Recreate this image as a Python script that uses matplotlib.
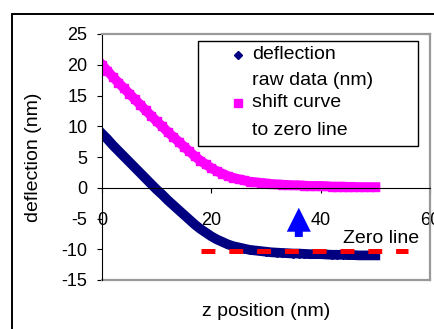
import matplotlib.pyplot as plt
from matplotlib.patches import Rectangle, FancyArrow

plt.rcParams['font.family'] = ['Liberation Sans', 'DejaVu Sans']
plt.rcParams['axes.unicode_minus'] = False

# z position (nm) and the two deflection curves (nm)
z_nm = list(range(0, 51))
deflection_raw = [8.8, 7.9, 6.9, 6.0, 5.1, 4.2, 3.3, 2.4, 1.5, 0.6,
                  -0.3, -1.1, -2.0, -2.8, -3.6, -4.4, -5.2, -6.0, -6.7, -7.3,
                  -7.9, -8.4, -8.8, -9.2, -9.5, -9.7, -9.9, -10.1, -10.2, -10.3,
                  -10.4, -10.5, -10.55, -10.6, -10.65, -10.7, -10.7, -10.75, -10.8, -10.8,
                  -10.8, -10.85, -10.9, -10.9, -10.9, -10.95, -10.95, -11.0, -11.0, -11.0,
                  -11.0]
shift_curve = [20.0, 19.0, 18.0, 17.1, 16.2, 15.3, 14.4, 13.5, 12.6, 11.7,
               10.8, 10.0, 9.1, 8.3, 7.5, 6.7, 5.9, 5.1, 4.4, 3.8,
               3.2, 2.7, 2.3, 1.9, 1.6, 1.4, 1.2, 1.0, 0.9, 0.8,
               0.7, 0.6, 0.55, 0.5, 0.45, 0.4, 0.4, 0.35, 0.3, 0.3,
               0.3, 0.25, 0.2, 0.2, 0.2, 0.15, 0.15, 0.1, 0.1, 0.1,
               0.1]

zero_level = -10.35
zero_from, zero_to = 18.2, 55.9
arrow_z = 36
arrow_bottom, arrow_top = -8.0, -3.25

x_ticks = [0, 20, 40, 60]
y_ticks = [-15, -10, -5, 0, 5, 10, 15, 20, 25]

fig = plt.figure(figsize=(4.35, 3.29), dpi=100)
ax = fig.add_axes([102/435, 49/329, 328/435, 246/329])

# outer chart border
fig.add_artist(Rectangle((12/435, -0.1), 1.2, 1.1 - 14/329, transform=fig.transFigure,
                         fill=False, ec='black', lw=1.4))

ax.plot(z_nm, shift_curve, '-s', color='#ff00ff', lw=7, ms=5.5, mec='#ff00ff')
ax.plot(z_nm, deflection_raw, '-D', color='#000080', lw=7, ms=4.5, mec='#000080')

ax.plot([zero_from, zero_to], [zero_level, zero_level], color='red', lw=3.6,
        dashes=(2.78, 2.78), solid_capstyle='butt', dash_capstyle='butt')

ax.add_patch(FancyArrow(arrow_z, arrow_bottom, 0, arrow_top - arrow_bottom,
                        width=1.46, head_width=4.4, head_length=3.9,
                        length_includes_head=True, color='blue', lw=0))

ax.text(44.1, -8.3, 'Zero line', fontsize=14, ha='left', va='center')

ax.set_xlim(0, 60)
ax.set_ylim(-15, 25)
ax.set_xticks(x_ticks)
ax.set_yticks(y_ticks)

ax.spines['bottom'].set_position(('data', 0))
ax.spines['bottom'].set_color('black')
ax.spines['left'].set_color('black')
for s in ['top', 'right']:
    ax.spines[s].set_color('#999999')
    ax.spines[s].set_linewidth(1.6)
ax.axhline(-15, color='#999999', lw=1.6, clip_on=False)

ax.tick_params(axis='x', direction='out', length=3.6, pad=14, labelsize=13)
ax.tick_params(axis='y', direction='out', length=3.6, pad=7, labelsize=13)

fig.text(0.5 * (102 + 430) / 435, 1 - 312/329, 'z position (nm)', fontsize=14,
         ha='center', va='center')
fig.text(34/435, 1 - 157/329, 'deflection (nm)', fontsize=14, rotation=90,
         ha='center', va='center')

# legend box drawn by hand so each marker sits on the first text line
ax.add_patch(Rectangle((0.293, 0.545), 0.67, 0.4265, transform=ax.transAxes,
                       fill=True, fc='white', ec='black', lw=1, zorder=5))
ax.plot([0.415], [0.915], 'D', color='#000080', ms=4, transform=ax.transAxes,
        clip_on=False, zorder=6)
ax.plot([0.415], [0.72], 's', color='#ff00ff', ms=5.5, transform=ax.transAxes,
        clip_on=False, zorder=6)
for y, txt in [(0.915, 'deflection'), (0.813, 'raw data (nm)'),
               (0.72, 'shift curve'), (0.606, 'to zero line')]:
    ax.text(0.457, y, txt, fontsize=14, transform=ax.transAxes,
            ha='left', va='center', zorder=6)

fig.savefig('out.png', dpi=100)
